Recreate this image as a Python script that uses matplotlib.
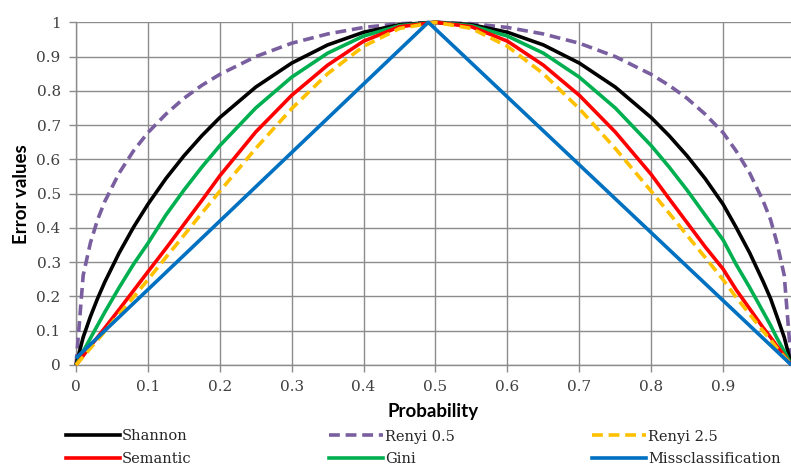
import matplotlib
matplotlib.use("Agg")
import matplotlib.pyplot as plt
from matplotlib.lines import Line2D

# ---- data ----
prob = [0, 0.01, 0.02, 0.03, 0.04, 0.06, 0.08, 0.10, 0.125, 0.15, 0.175, 0.20, 0.25, 0.30,
        0.35, 0.40, 0.45, 0.50, 0.55, 0.60, 0.65, 0.70, 0.75, 0.80, 0.825, 0.85,
        0.875, 0.90, 0.918, 0.937, 0.956, 0.966, 0.975, 0.985, 0.995]

shannon = [0, 0.081, 0.141, 0.194, 0.242, 0.327, 0.402, 0.469, 0.544, 0.610, 0.669, 0.722,
           0.811, 0.881, 0.934, 0.971, 0.993, 1.0, 0.993, 0.971, 0.934, 0.881, 0.811,
           0.722, 0.669, 0.610, 0.544, 0.469, 0.402, 0.327, 0.242, 0.194, 0.141, 0.081, 0]

renyi05 = [0, 0.262, 0.356, 0.424, 0.477, 0.560, 0.625, 0.678, 0.732, 0.778, 0.816, 0.848,
           0.900, 0.939, 0.966, 0.985, 0.996, 1.0, 0.996, 0.985, 0.966, 0.939, 0.900,
           0.848, 0.816, 0.778, 0.732, 0.678, 0.625, 0.560, 0.477, 0.424, 0.356, 0.262, 0]

renyi25 = [0, 0.024, 0.049, 0.073, 0.098, 0.148, 0.198, 0.249, 0.314, 0.378, 0.443, 0.507,
           0.632, 0.748, 0.850, 0.930, 0.982, 1.0, 0.982, 0.930, 0.850, 0.748, 0.632,
           0.507, 0.443, 0.378, 0.314, 0.249, 0.198, 0.148, 0.098, 0.073, 0.049, 0.024, 0]

semantic = [0, 0.027, 0.055, 0.081, 0.108, 0.162, 0.217, 0.272, 0.340, 0.410, 0.480, 0.552,
            0.680, 0.787, 0.875, 0.945, 0.987, 1.0, 0.987, 0.945, 0.875, 0.787, 0.680,
            0.556, 0.485, 0.415, 0.345, 0.280, 0.220, 0.164, 0.108, 0.081, 0.055, 0.027, 0]

gini = [0, 0.040, 0.078, 0.116, 0.154, 0.226, 0.294, 0.355, 0.4375, 0.510, 0.5775, 0.640,
        0.750, 0.840, 0.910, 0.960, 0.990, 1.0, 0.990, 0.960, 0.910, 0.840, 0.750,
        0.640, 0.5775, 0.510, 0.4375, 0.365, 0.294, 0.226, 0.154, 0.116, 0.078, 0.040, 0]

miss_prob = [0, 0.49, 0.995]
missclass = [0.02, 1.0, 0.0]

xticks = [0, 0.1, 0.2, 0.3, 0.4, 0.5, 0.6, 0.7, 0.8, 0.9]
xticklabels = ["0", "0.1", "0.2", "0.3", "0.4", "0.5", "0.6", "0.7", "0.8", "0.9"]
yticks = [0, 0.1, 0.2, 0.3, 0.4, 0.5, 0.6, 0.7, 0.8, 0.9, 1.0]
yticklabels = ["0", "0.1", "0.2", "0.3", "0.4", "0.5", "0.6", "0.7", "0.8", "0.9", "1"]

# ---- figure ----
W, H = 791, 466
fig = plt.figure(figsize=(W / 100, H / 100), dpi=100)
ax = fig.add_axes([76 / W, 101 / H, 1 - 76 / W, (365 - 22.3) / H])

grid_c = "#8c8c8c"
ax.set_xlim(0, (W - 76) / 719.0)
ax.set_ylim(0, 1)
ax.set_xticks(xticks)
ax.set_xticklabels(xticklabels)
ax.set_yticks(yticks)
ax.set_yticklabels(yticklabels)
ax.grid(True, color=grid_c, linewidth=1.0)
ax.set_axisbelow(True)
for s in ["top", "right"]:
    ax.spines[s].set_visible(False)
for s in ["left", "bottom"]:
    ax.spines[s].set_color(grid_c)
    ax.spines[s].set_linewidth(1.0)
ax.tick_params(axis="both", length=5, width=1.0, color=grid_c, labelcolor="#404040",
               labelsize=11, pad=6)
for lab in ax.get_xticklabels() + ax.get_yticklabels():
    lab.set_family("DejaVu Serif")

lw = 2.6
dash = (3.0, 1.6)
styles = {
    "Shannon": dict(color="#000000", lw=lw),
    "Renyi 0.5": dict(color="#7a5fa0", lw=lw, dashes=dash),
    "Renyi 2.5": dict(color="#ffc000", lw=lw, dashes=dash),
    "Semantic": dict(color="#ff0000", lw=lw),
    "Gini": dict(color="#00b050", lw=lw),
    "Missclassification": dict(color="#0070c0", lw=lw),
}

series = [
    ("Renyi 0.5", prob, renyi05),
    ("Shannon", prob, shannon),
    ("Gini", prob, gini),
    ("Semantic", prob, semantic),
    ("Renyi 2.5", prob, renyi25),
    ("Missclassification", miss_prob, missclass),
]
for name, xs, ys in series:
    ax.plot(xs, ys, clip_on=False, zorder=3, solid_capstyle="butt",
            dash_capstyle="butt", solid_joinstyle="round", **styles[name])

ax.set_xlabel("Probability", fontsize=13.5, fontweight="bold", family="Lato",
              labelpad=6)
ax.set_ylabel("Error values", fontsize=13.5, fontweight="bold", family="Lato",
              labelpad=5)

order = ["Shannon", "Semantic", "Renyi 0.5", "Gini", "Renyi 2.5", "Missclassification"]
handles = [Line2D([], [], **styles[n]) for n in order]
leg = fig.legend(handles, order, loc="upper left", bbox_to_anchor=(66 / W, 1 - 429.5 / H),
                 ncol=3, frameon=False, borderpad=0, borderaxespad=0,
                 handlelength=3.7, handletextpad=0.15, columnspacing=9.4,
                 labelspacing=0.6, prop={"family": "DejaVu Serif", "size": 10.5})
for t in leg.get_texts():
    t.set_color("#262626")

fig.savefig("out.png", dpi=100)
